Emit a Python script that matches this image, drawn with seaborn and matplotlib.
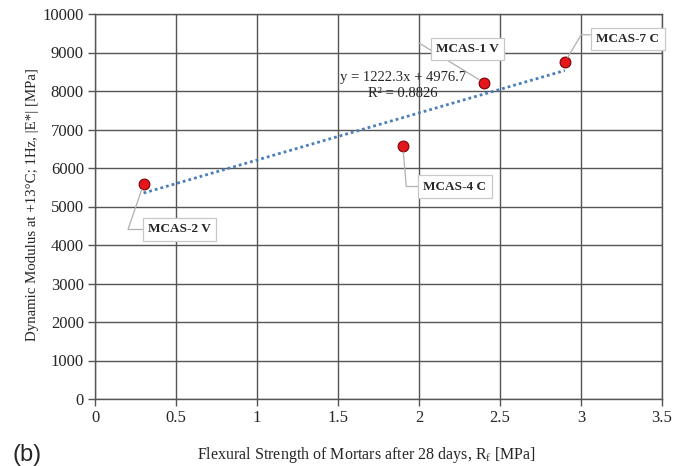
import numpy as np
import pandas as pd
import matplotlib
matplotlib.use("Agg")
import matplotlib.pyplot as plt
import seaborn as sns

# ---- data ----
samples = ["MCAS-2 V", "MCAS-4 C", "MCAS-1 V", "MCAS-7 C"]
flexural = [0.3, 1.9, 2.4, 2.9]
modulus = [5580, 6560, 8220, 8750]
x_ticks = [0, 0.5, 1, 1.5, 2, 2.5, 3, 3.5]
y_ticks = [0, 1000, 2000, 3000, 4000, 5000, 6000, 7000, 8000, 9000, 10000]
eq_text = "y = 1222.3x + 4976.7"
r2_text = "R² = 0.8826"

df = pd.DataFrame({"sample": samples, "Rf": flexural, "E": modulus})

sns.set_style("white")
plt.rcParams["font.family"] = ["Liberation Serif", "DejaVu Serif"]

fig = plt.figure(figsize=(6.87, 4.66), dpi=100)
ax = fig.add_axes([95 / 687, 1 - 399 / 466, 567 / 687, 385 / 466])

gc = "#555555"
sns.regplot(data=df, x="Rf", y="E", ax=ax, scatter=False, ci=None, truncate=True,
            line_kws=dict(color="#4a7ebb", lw=2.0, ls=(0, (1, 1.1)), zorder=3))
sns.scatterplot(data=df, x="Rf", y="E", ax=ax, s=60, color="#e5161c",
                edgecolor="#7a0000", linewidth=0.8, zorder=4, legend=False)

ax.set_xlim(0, 3.5)
ax.set_ylim(0, 10000)
ax.set_xticks(x_ticks)
ax.set_xticklabels([f"{v:g}" for v in x_ticks])
ax.set_yticks(y_ticks)
ax.set_yticklabels([str(v) for v in y_ticks])
ax.grid(True, color=gc, lw=1.0)
ax.set_axisbelow(True)
for s in ax.spines.values():
    s.set_color(gc)
    s.set_linewidth(1.0)
ax.tick_params(axis="both", direction="out", length=5, width=1.0, color=gc,
               labelsize=12, pad=3, bottom=True, left=True)

ax.set_xlabel("Flexural Strength of Mortars after 28 days, R$_\\mathregular{f}$ [MPa]", fontsize=11.5)
ax.xaxis.set_label_coords((366.5 - 95) / 567, (399 - 455) / 385)
ax.xaxis.label.set_va("center")
ax.set_ylabel("Dynamic Modulus at +13°C; 1Hz, |E*| [MPa]", fontsize=10.7)
ax.yaxis.set_label_coords((33 - 95) / 567, (399 - 205) / 385)
ax.yaxis.label.set_va("center")

# trendline equation
ax.text(1.90, 8342, eq_text, ha="center", va="center", fontsize=10.5, zorder=5)
ax.text(1.90, 7927, r2_text, ha="center", va="center", fontsize=10.5, zorder=5)

# data labels with leader lines
label_pos = {
    "MCAS-2 V": ((0.522, 4403), dict(relpos=(0, 0.5), connectionstyle="angle,angleA=180,angleB=71")),
    "MCAS-4 C": ((2.222, 5519), dict(relpos=(0, 0.5), connectionstyle="angle,angleA=180,angleB=-85")),
    "MCAS-1 V": ((2.299, 9091), dict(relpos=(-0.27, 1.0), patchA=None, connectionstyle="arc3")),
    "MCAS-7 C": ((3.290, 9351), dict(relpos=(0, 0.85), connectionstyle="angle,angleA=180,angleB=59")),
}
for name, xv, yv in zip(samples, flexural, modulus):
    (tx, ty), ap = label_pos[name]
    props = dict(arrowstyle="-", color="#b0b0b0", lw=0.9, shrinkB=4, shrinkA=0)
    props.update(ap)
    ax.annotate(name, xy=(xv, yv), xytext=(tx, ty), textcoords="data",
                ha="center", va="center", fontsize=9.5, fontweight="bold",
                bbox=dict(boxstyle="square,pad=0.4", fc="white", ec="#c8c8c8", lw=0.9),
                arrowprops=props, zorder=6)

fig.text(27 / 687, 1 - 455 / 466, "(b)", ha="center", va="center", fontsize=17,
         family=["Liberation Sans", "DejaVu Sans"])

fig.savefig("out.png", dpi=100)
